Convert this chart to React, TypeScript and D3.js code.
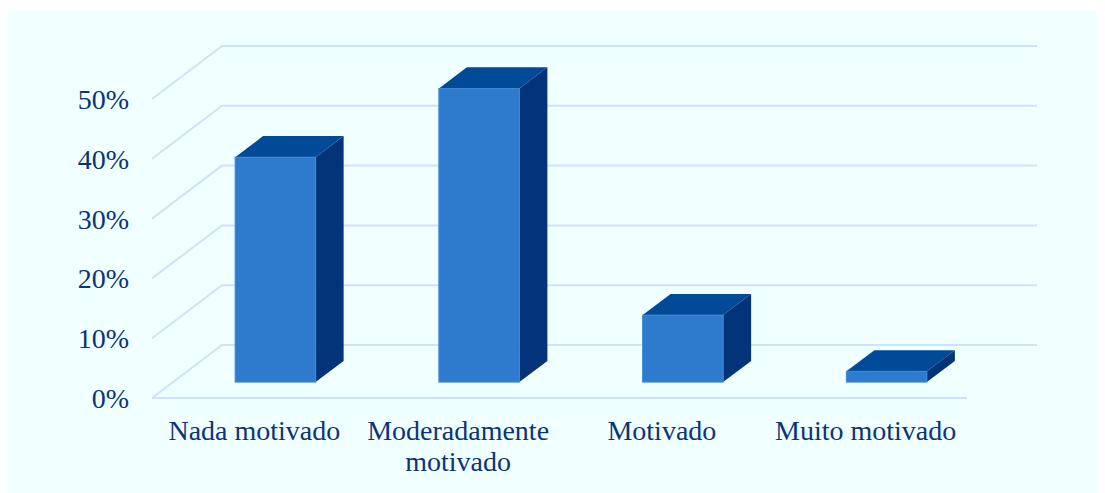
import React from "react";
import * as d3 from "d3";

const categories = ["Nada motivado", "Moderadamente motivado", "Motivado", "Muito motivado"];
const labelLines = [["Nada motivado"], ["Moderadamente", "motivado"], ["Motivado"], ["Muito motivado"]];
const values = [37.6, 49.1, 11.2, 1.8];
const ticks = [0, 10, 20, 30, 40, 50];

const W = 1105, H = 493;
const dx = 70, dy = -53;
const depthFront = 0.3, depthBack = 0.7;
const x = d3.scaleBand<string>().domain(categories).range([152, 967]).paddingInner(0).paddingOuter(0);
const y = d3.scaleLinear().domain([0, 50]).range([398, 99]);
const grid = "#cfe2fb";
const text = "#0b3478";
const font = "'Liberation Serif', serif";
const pts = (p: [number, number][]) => p.map((q) => q.join(",")).join(" ");

export default function App() {
  return (
    <svg width={W} height={H} style={{ position: "absolute", left: 0, top: 0 }}>
      <rect x={8} y={10} width={1089} height={483} fill="#f0ffff" />
      {ticks.map((t) => (
        <polyline key={t} fill="none" stroke={grid} strokeWidth={2}
          points={pts([[152, y(t)], [152 + dx, y(t) + dy], [x.range()[1] + dx, y(t) + dy]])} />
      ))}
      <line x1={152} x2={967} y1={y(0)} y2={y(0)} stroke={grid} strokeWidth={2} />
      {ticks.map((t) => (
        <text key={t} x={129} y={y(t) + 10} textAnchor="end" fontFamily={font} fontSize={28} fill={text}>{t}%</text>
      ))}
      {categories.map((c, i) => {
        const bw = x.bandwidth() * 0.4 - 1;
        const cx = x(c)! + x.bandwidth() / 2 + dx * depthFront + 0.5;
        const x0 = cx - bw / 2, x1 = cx + bw / 2;
        const yb = y(0) + dy * depthFront;
        const yt = yb - (y(0) - y(values[i]));
        const ox = dx * (depthBack - depthFront), oy = dy * (depthBack - depthFront);
        return (
          <g key={c}>
            <polygon points={pts([[x0, yt], [x0 + ox, yt + oy], [x1 + ox, yt + oy], [x1, yt]])} fill="#004a97" />
            <polygon points={pts([[x1, yb], [x1 + ox, yb + oy], [x1 + ox, yt + oy], [x1, yt]])} fill="#03347a" />
            <rect x={x0} y={yt} width={bw} height={yb - yt} fill="#2e7bcd" stroke="#3f87d6" strokeWidth={1} />
          </g>
        );
      })}
      {categories.map((c, i) => (
        <text key={c} textAnchor="middle" fontFamily={font} fontSize={28} fill={text}>
          {labelLines[i].map((l, j) => (
            <tspan key={l} x={x(c)! + x.bandwidth() / 2 + 0.5} y={440 + j * 31}>{l}</tspan>
          ))}
        </text>
      ))}
    </svg>
  );
}
